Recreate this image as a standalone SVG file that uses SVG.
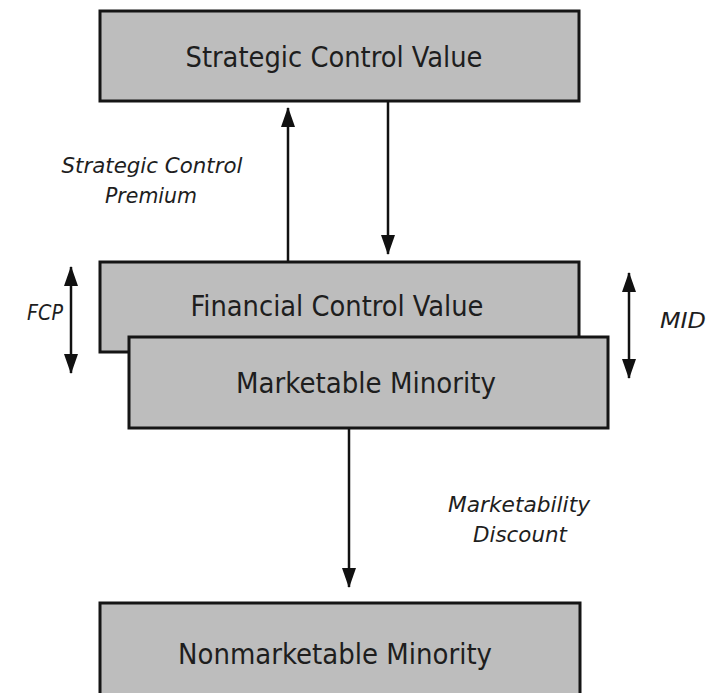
<svg xmlns="http://www.w3.org/2000/svg" width="708" height="693" viewBox="0 0 708 693">
<style>
.box{fill:#bdbdbd;stroke:#151515;stroke-width:3}
.inner{fill:none;stroke:#cfcfcf;stroke-width:2}
.t{font-family:"Liberation Sans Narrow","DejaVu Sans Condensed","Liberation Sans",sans-serif;font-size:29px;fill:#1e1e1e;text-anchor:middle}
.l{font-family:"Liberation Sans Narrow","DejaVu Sans Condensed","Liberation Sans",sans-serif;font-size:21px;font-style:italic;fill:#1e1e1e;text-anchor:middle}
.c{stroke:#111;stroke-width:2.5;fill:none}
</style>
<defs>
<marker id="ah" markerUnits="userSpaceOnUse" markerWidth="14" markerHeight="20" refX="7" refY="19" orient="auto-start-reverse" viewBox="0 0 14 20">
<path d="M0,0 L14,0 L7,20 Z" fill="#111" transform="rotate(0)"/>
</marker>
<marker id="ae" markerUnits="userSpaceOnUse" markerWidth="20" markerHeight="14" refX="19" refY="7" orient="auto-start-reverse" viewBox="0 0 20 14">
<path d="M0,0 L20,7 L0,14 Z" fill="#111"/>
</marker>
</defs>
<g id="connectors">
<line class="c" x1="288" y1="261" x2="288" y2="108" marker-end="url(#ae)"/>
<line class="c" x1="388" y1="102" x2="388" y2="254" marker-end="url(#ae)"/>
<line class="c" x1="349" y1="428" x2="349" y2="587" marker-end="url(#ae)"/>
<line class="c" x1="71" y1="267" x2="71" y2="373" marker-start="url(#ae)" marker-end="url(#ae)"/>
<line class="c" x1="629" y1="273" x2="629" y2="378" marker-start="url(#ae)" marker-end="url(#ae)"/>
</g>
<g id="strategic-control-value">
<rect class="box" x="100" y="11" width="479" height="90"/>
<text class="t" x="334" y="67" textLength="297" lengthAdjust="spacingAndGlyphs">Strategic Control Value</text>
</g>
<g id="financial-control-value">
<rect class="box" x="100" y="262" width="479" height="90"/>
<text class="t" x="337" y="316" textLength="293" lengthAdjust="spacingAndGlyphs">Financial Control Value</text>
</g>
<g id="marketable-minority">
<rect class="box" x="129" y="337" width="479" height="91"/>
<text class="t" x="366" y="393" textLength="260" lengthAdjust="spacingAndGlyphs">Marketable Minority</text>
</g>
<g id="nonmarketable-minority">
<rect class="box" x="100" y="603" width="480" height="95"/>
<text class="t" x="335" y="664" textLength="314" lengthAdjust="spacingAndGlyphs">Nonmarketable Minority</text>
</g>
<g id="labels">
<text class="l" x="152" y="173" textLength="181" lengthAdjust="spacingAndGlyphs">Strategic Control</text>
<text class="l" x="151" y="203" textLength="92" lengthAdjust="spacingAndGlyphs">Premium</text>
<text class="l" x="519" y="512" textLength="142" lengthAdjust="spacingAndGlyphs">Marketability</text>
<text class="l" x="520" y="542" textLength="94" lengthAdjust="spacingAndGlyphs">Discount</text>
<text class="l" x="45" y="320" textLength="36" lengthAdjust="spacingAndGlyphs">FCP</text>
<text class="l" x="683" y="328" textLength="46" lengthAdjust="spacingAndGlyphs">MID</text>
</g>
</svg>
